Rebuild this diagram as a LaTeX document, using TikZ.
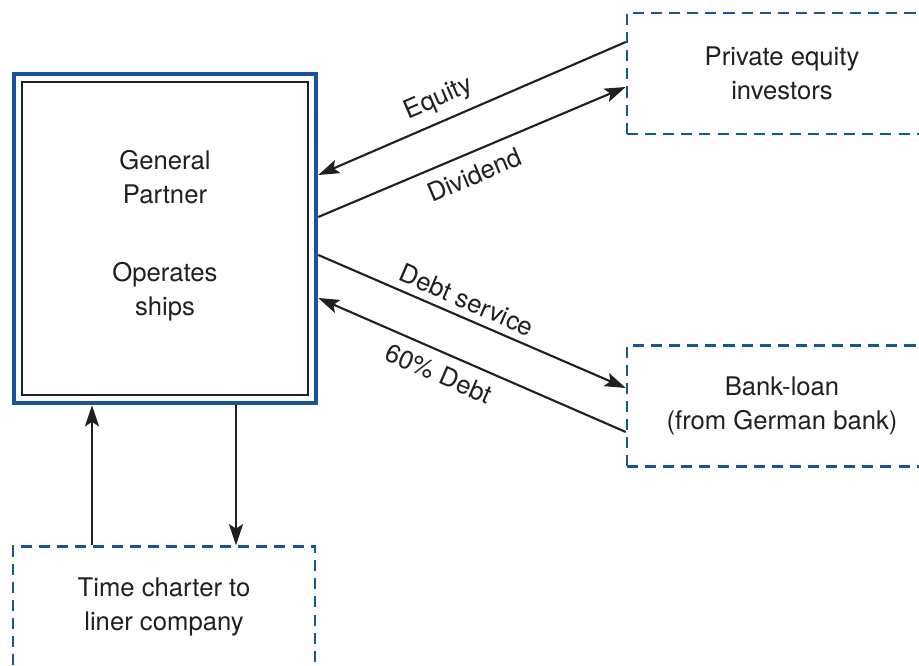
\documentclass[tikz,border=0pt]{standalone}
\usepackage{fontspec}
\setmainfont{TeX Gyre Heros}
\usetikzlibrary{arrows.meta}
\definecolor{boxblue}{RGB}{22,84,158}
\definecolor{ink}{RGB}{35,31,32}

\begin{document}
\begin{tikzpicture}[>={Stealth[length=12pt,width=8pt,inset=2.5pt]},
    font=\fontsize{14.6}{19.3}\selectfont,text=ink,
    flow/.style={->,draw=ink,line width=1.2pt},
    party/.style={draw=boxblue,dash pattern=on 6.3pt off 4pt,line width=1.4pt,
        align=center,minimum width=6.2cm,minimum height=2.42cm},
    lbl/.style={sloped,inner sep=5pt}]
    \clip (0,0) rectangle (18.38,-13.32);
    % general partner, double frame
    \node[draw=boxblue,line width=2.6pt,minimum width=6.04cm,minimum height=6.58cm] (gp) at (3.3,-4.77) {};
    \node[draw=ink,line width=1.2pt,minimum width=5.72cm,minimum height=6.26cm] (gpin) at (gp) {};
    \node[align=center] (gpname) at ([yshift=1.23cm]gp.center) {General\\Partner};
    \node[align=center] (gprole) at ([yshift=-1.07cm]gp.center) {Operates\\ships};
    \node[party] (pe) at (15.64,-1.47) {Private equity\\investors};
    \node[party] (bank) at (15.64,-8.12) {Bank-loan\\(from German bank)};
    \node[party,minimum width=6.04cm] (tc) at (3.28,-12.14) {Time charter to\\liner company};
    \draw[flow] ([yshift=0.63cm]pe.west) -- node[lbl,above,pos=0.58] {Equity} ([yshift=1.27cm]gp.east);
    \draw[flow] ([yshift=0.43cm]gp.east) -- node[lbl,below,pos=0.48,inner sep=6.5pt] {Dividend} ([yshift=-0.27cm]pe.west);
    \draw[flow] ([yshift=-0.33cm]gp.east) -- node[lbl,above,pos=0.46,inner sep=4pt] {Debt service} ([yshift=0.36cm]bank.west);
    \draw[flow] ([yshift=-0.52cm]bank.west) -- node[lbl,below,pos=0.58,inner sep=6pt] {60\% Debt} ([yshift=-1.19cm]gp.east);
    \draw[flow] ([xshift=-1.44cm]tc.north) -- ([xshift=-1.46cm]gp.south);
    \draw[flow] ([xshift=1.42cm]gp.south) -- ([xshift=1.44cm]tc.north);
\end{tikzpicture}
\end{document}
